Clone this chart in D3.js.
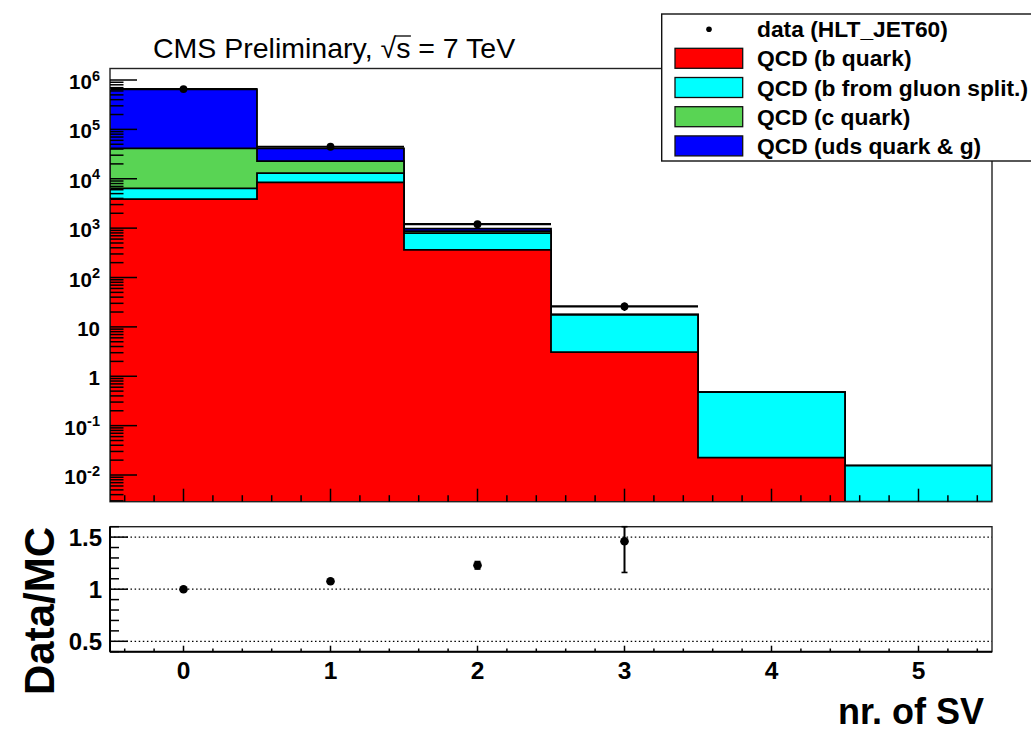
<!DOCTYPE html>
<html>
<head>
<meta charset="utf-8">
<script src="https://cdn.jsdelivr.net/npm/d3@7"></script>
<style>
  html, body { margin: 0; padding: 0; background: #fff; }
  svg { display: block; font-family: "Liberation Sans", Arial, Helvetica, sans-serif; }
</style>
</head>
<body>
<svg id="chart" width="1031" height="732"></svg>
<script>
// Secondary-vertex multiplicity: stacked QCD simulation vs. data, with Data/MC ratio
const binCenters   = [0, 1, 2, 3, 4, 5];
const bQuark       = [3870, 8450, 363, 3.07, 0.0224, 0];
const bGluonSplit  = [2510, 4600, 429, 14.4, 0.454, 0.0155];
const cQuark       = [35000, 9800, 78, 0.25, 0, 0];
const udsGluon     = [614600, 18450, 110, 0.08, 0, 0];
const dataBins     = [0, 1, 2, 3];
const dataCounts   = [656000, 44480, 1205, 26];
const dataErr      = [810, 211, 35, 5.1];
const ratioErr     = [0.0012, 0.0051, 0.036, 0.30];
const ratioTicks   = [0.5, 1, 1.5];
const xTickLabels  = ["0", "1", "2", "3", "4", "5"];
const legendLabels = ["data (HLT_JET60)", "QCD (b quark)", "QCD (b from gluon split.)", "QCD (c quark)", "QCD (uds quark & g)"];
const seriesKeys   = ["b", "bg", "c", "uds"];
const seriesColors = { b: "#ff0000", bg: "#00ffff", c: "#59d454", uds: "#0000ff" };

const svg = d3.select("#chart");

// panel geometry
const L = 110, R = 992;
const topY0 = 68.5, topY1 = 501.7;
const ratY0 = 526.7, ratY1 = 651.7;
const yMin = 0.00288, yMax = 1.71e6;

const x = d3.scaleLinear().domain([-0.5, 5.5]).range([L, R]);
const y = d3.scaleLog().domain([yMin, yMax]).range([topY1, topY0]).clamp(true);
const yr = d3.scaleLinear().domain([0.4, 1.6]).range([ratY1, ratY0]).clamp(true);
const yc = v => y(Math.max(v, yMin));

// stacked layers
const rows = binCenters.map((c, i) => ({
  center: c, b: bQuark[i], bg: bGluonSplit[i], c: cQuark[i], uds: udsGluon[i]
}));
const stack = d3.stack().keys(seriesKeys)(rows);

svg.append("defs").append("clipPath").attr("id", "topClip")
  .append("rect").attr("x", L).attr("y", topY0).attr("width", R - L).attr("height", topY1 - topY0);

const topG = svg.append("g").attr("clip-path", "url(#topClip)");

function stepPoints(layer) {
  const pts = [];
  layer.forEach((d, i) => {
    const c = binCenters[i];
    pts.push([c - 0.5, d[1]]);
    pts.push([c + 0.5, d[1]]);
  });
  return pts;
}
const area = d3.area().x(d => x(d[0])).y0(topY1 + 2).y1(d => yc(d[1]));
const line = d3.line().x(d => x(d[0])).y(d => yc(d[1]));

// draw cumulative histograms from the total downward
stack.slice().reverse().forEach(layer => {
  const pts = stepPoints(layer);
  topG.append("path").attr("d", area(pts)).attr("fill", seriesColors[layer.key]).attr("stroke", "none");
  const outline = [[-0.5, 0]].concat(pts, [[5.5, 0]]);
  topG.append("path").attr("d", line(outline)).attr("fill", "none")
    .attr("stroke", "#000").attr("stroke-width", 1.8);
});

// data points
dataBins.forEach((b, i) => {
  const v = dataCounts[i];
  topG.append("line").attr("x1", x(b - 0.5)).attr("x2", x(b + 0.5))
    .attr("y1", yc(v)).attr("y2", yc(v)).attr("stroke", "#000").attr("stroke-width", 2.2);
  topG.append("line").attr("x1", x(b)).attr("x2", x(b))
    .attr("y1", yc(v + dataErr[i])).attr("y2", yc(v - dataErr[i])).attr("stroke", "#000").attr("stroke-width", 2);
  topG.append("circle").attr("cx", x(b)).attr("cy", yc(v)).attr("r", 3.9).attr("fill", "#000");
});

// top frame
svg.append("rect").attr("x", L).attr("y", topY0).attr("width", R - L).attr("height", topY1 - topY0)
  .attr("fill", "none").attr("stroke", "#222").attr("stroke-width", 1.4);

// log y ticks
const tickG = svg.append("g").attr("stroke", "#000").attr("stroke-width", 1.5);
for (let e = -3; e <= 6; e++) {
  for (let m = 1; m <= 9; m++) {
    const v = m * Math.pow(10, e);
    if (v < yMin || v > yMax) continue;
    const len = m === 1 ? 27 : 13.5;
    tickG.append("line").attr("x1", L).attr("x2", L + len).attr("y1", y(v)).attr("y2", y(v));
  }
}
// x ticks on top panel
for (let k = 0; k <= 30; k++) {
  const v = -0.4 + k * 0.2;
  if (v > 5.45) break;
  const major = Math.abs(v - Math.round(v)) < 1e-6;
  tickG.append("line").attr("x1", x(v)).attr("x2", x(v))
    .attr("y1", topY1).attr("y2", topY1 - (major ? 13 : 6.5));
}

// y labels for log axis
const expLabels = [-2, -1, 0, 1, 2, 3, 4, 5, 6];
expLabels.forEach(e => {
  const yy = y(Math.pow(10, e));
  const t = svg.append("text").attr("x", 100).attr("y", yy + 9).attr("text-anchor", "end")
    .attr("font-weight", "bold").attr("font-size", 20.5).attr("fill", "#000");
  if (e === 0) t.text("1");
  else if (e === 1) t.text("10");
  else {
    t.append("tspan").text("10");
    t.append("tspan").attr("font-size", 14.5).attr("dy", -8.5).text(String(e));
  }
});

// title with sqrt(s)
const title = svg.append("text").attr("x", 153).attr("y", 57.7).attr("font-size", 28.5).attr("fill", "#000")
  .text("CMS Preliminary, \u221As = 7 TeV");
{
  const node = title.node();
  const idx = "CMS Preliminary, \u221A".length;
  const s0 = node.getStartPositionOfChar(idx).x;
  const s1 = node.getEndPositionOfChar(idx).x;
  svg.append("line").attr("x1", s0 - 1).attr("x2", s1 + 0.5).attr("y1", 36).attr("y2", 36)
    .attr("stroke", "#000").attr("stroke-width", 1.3);
}

// legend
const lg = svg.append("g");
lg.append("rect").attr("x", 661.7).attr("y", 14).attr("width", 400).attr("height", 147)
  .attr("fill", "#fff").attr("stroke", "#111").attr("stroke-width", 1.4);
const rowY = [29.2, 58.3, 87.5, 116.7, 145.9];
legendLabels.forEach((lab, i) => {
  if (i === 0) {
    lg.append("circle").attr("cx", 709).attr("cy", rowY[i]).attr("r", 2.8).attr("fill", "#000");
  } else {
    lg.append("rect").attr("x", 675).attr("y", rowY[i] - 10).attr("width", 67.7).attr("height", 20)
      .attr("fill", seriesColors[seriesKeys[i - 1]]).attr("stroke", "#111").attr("stroke-width", 1.3);
  }
  lg.append("text").attr("x", 757).attr("y", rowY[i] + 8).attr("font-weight", "bold")
    .attr("font-size", 22.8).attr("fill", "#000").text(lab);
});

// ratio panel
const rg = svg.append("g");
ratioTicks.forEach(v => {
  rg.append("line").attr("x1", L).attr("x2", R).attr("y1", yr(v)).attr("y2", yr(v))
    .attr("stroke", "#000").attr("stroke-width", 1.2).attr("stroke-dasharray", "1.5,2.6");
});
rg.append("rect").attr("x", L).attr("y", ratY0).attr("width", R - L).attr("height", ratY1 - ratY0)
  .attr("fill", "none").attr("stroke", "#222").attr("stroke-width", 1.4);
rg.append("line").attr("x1", L).attr("x2", R).attr("y1", ratY1).attr("y2", ratY1)
  .attr("stroke", "#000").attr("stroke-width", 2);
rg.append("line").attr("x1", L).attr("x2", L).attr("y1", ratY0).attr("y2", ratY1)
  .attr("stroke", "#000").attr("stroke-width", 2);

// ratio y ticks
for (let k = 0; k <= 12; k++) {
  const v = 0.4 + k * 0.1;
  const major = Math.abs(v * 2 - Math.round(v * 2)) < 1e-6;
  rg.append("line").attr("x1", L).attr("x2", L + (major ? 18 : 9)).attr("y1", yr(v)).attr("y2", yr(v))
    .attr("stroke", "#000").attr("stroke-width", 1.5);
}
ratioTicks.forEach(v => {
  rg.append("text").attr("x", 102).attr("y", yr(v) + 8.5).attr("text-anchor", "end")
    .attr("font-weight", "bold").attr("font-size", 24).attr("fill", "#000").text(String(v));
});
// ratio x ticks
for (let k = 0; k <= 30; k++) {
  const v = -0.4 + k * 0.2;
  if (v > 5.45) break;
  const major = Math.abs(v - Math.round(v)) < 1e-6;
  rg.append("line").attr("x1", x(v)).attr("x2", x(v)).attr("y1", ratY1).attr("y2", ratY1 - (major ? 6 : 3.2))
    .attr("stroke", "#000").attr("stroke-width", 1.5);
}
binCenters.forEach((c, i) => {
  rg.append("text").attr("x", x(c)).attr("y", 678.5).attr("text-anchor", "middle")
    .attr("font-weight", "bold").attr("font-size", 24.5).attr("fill", "#000").text(xTickLabels[i]);
});

// ratio points: data over summed simulation
dataBins.forEach((b, i) => {
  const mc = stack[stack.length - 1][b][1];
  const r = dataCounts[i] / mc;
  const e = ratioErr[i];
  const yTop = yr(r + e), yBot = yr(r - e);
  rg.append("line").attr("x1", x(b)).attr("x2", x(b)).attr("y1", yTop).attr("y2", yBot)
    .attr("stroke", "#000").attr("stroke-width", 2);
  if (e > 0.02) {
    [yTop, yBot].forEach(yy => rg.append("line").attr("x1", x(b) - 3).attr("x2", x(b) + 3)
      .attr("y1", yy).attr("y2", yy).attr("stroke", "#000").attr("stroke-width", 1.6));
  }
  rg.append("circle").attr("cx", x(b)).attr("cy", yr(r)).attr("r", 4.3).attr("fill", "#000");
});

// axis titles
svg.append("text").attr("transform", "translate(54,527) rotate(-90)").attr("text-anchor", "end")
  .attr("font-weight", "bold").attr("font-size", 42).attr("fill", "#000").text("Data/MC");
svg.append("text").attr("x", 984).attr("y", 723.5).attr("text-anchor", "end")
  .attr("font-weight", "bold").attr("font-size", 36).attr("fill", "#000").text("nr. of SV");
</script>
</body>
</html>
